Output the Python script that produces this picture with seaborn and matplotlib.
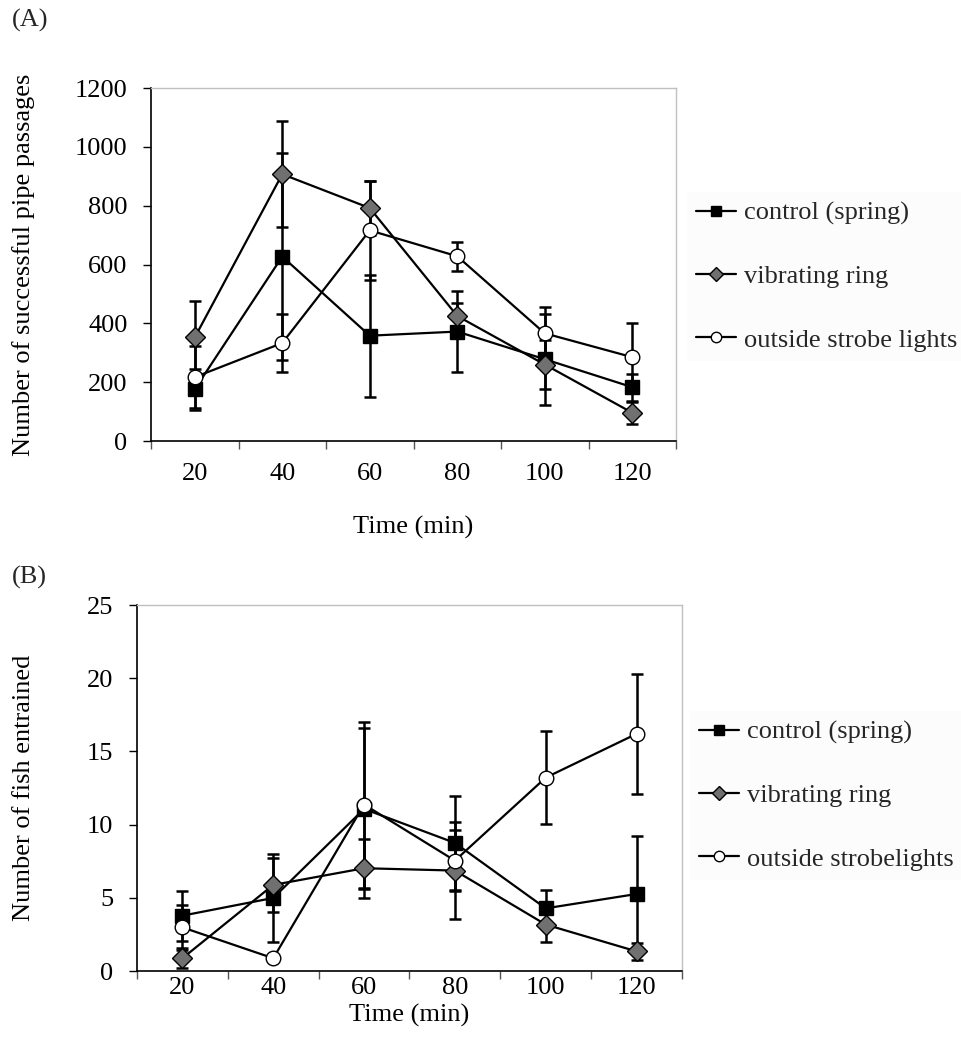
import numpy as np
import matplotlib
matplotlib.use("Agg")
import matplotlib.pyplot as plt
import seaborn as sns
from matplotlib.lines import Line2D
from matplotlib.ticker import FixedLocator

# ---------------- data ----------------
times = ["20", "40", "60", "80", "100", "120"]

names_a = ["control (spring)", "vibrating ring", "outside strobe lights"]
names_b = ["control (spring)", "vibrating ring", "outside strobelights"]

a_control = [176, 627, 358, 372, 278, 183]
a_control_err = [70, 352, 207, 137, 155, 46]
a_vibrating = [352, 907, 792, 425, 260, 96]
a_vibrating_err = [125, 181, 93, 43, 84, 38]
a_strobe = [217, 333, 716, 628, 366, 285]
a_strobe_err = [106, 98, 168, 50, 91, 116]

b_control = [3.78, 4.99, 11.07, 8.75, 4.28, 5.26]
b_control_err = [1.71, 2.98, 5.5, 3.23, 1.26, 3.95]
b_vibrating = [0.87, 5.88, 7.02, 6.86, 3.17, 1.34]
b_vibrating_err = [0.67, 1.86, 2.0, 3.3, 1.2, 0.6]
b_strobe = [2.98, 0.87, 11.37, 7.54, 13.21, 16.2]
b_strobe_err = [1.53, 0.0, 5.67, 2.1, 3.2, 4.1]

a_yticks = [0, 200, 400, 600, 800, 1000, 1200]
b_yticks = [0, 5, 10, 15, 20, 25]

# ---------------- style ----------------
sns.set_theme(style="white")
plt.rcParams["font.family"] = ["Liberation Serif", "DejaVu Serif"]
FS = 19
plt.rcParams["font.size"] = FS

W, H = 962, 1053
fig = plt.figure(figsize=(W / 100, H / 100), dpi=100)
fig.patch.set_facecolor("white")


def add_ax(l, t, r, b):
    return fig.add_axes([l / W, 1 - b / H, (r - l) / W, (b - t) / H])


axA = add_ax(151, 88, 676, 441)
axB = add_ax(137, 605, 682, 971)

marker_styles = [
    dict(marker="s", markersize=10.5, markerfacecolor="black"),
    dict(marker="D", markersize=10.5, markerfacecolor="#707070"),
    dict(marker="o", markersize=10.5, markerfacecolor="white"),
]


def draw_panel(ax, series, names, yticks, ylabel, xtick_pad, xlabel_y, ylabel_x,
               legend_left, legend_center):
    x = np.arange(len(times))
    for i, (vals, errs) in enumerate(series):
        ax.errorbar(x, vals, yerr=errs, fmt="none", ecolor="black",
                    elinewidth=1.8, capsize=4.5, capthick=1.8, zorder=2)
        sns.lineplot(x=x, y=vals, ax=ax, color="black", linewidth=1.6,
                     markeredgecolor="black", markeredgewidth=1.0,
                     zorder=3 + i, legend=False, **marker_styles[i])
    ax.set_xlim(-0.5, len(times) - 0.5)
    ax.set_ylim(yticks[0], yticks[-1])
    ax.set_yticks(yticks)
    ax.set_xticks(x)
    ax.set_xticklabels(times)
    ax.xaxis.set_minor_locator(FixedLocator(np.arange(-0.5, len(times), 1.0)))
    ax.tick_params(axis="x", which="major", bottom=True, length=0,
                   pad=xtick_pad, labelsize=FS, colors="black")
    ax.tick_params(axis="x", which="minor", bottom=True, length=5.5,
                   width=1, color="#555555", direction="out")
    ax.tick_params(axis="y", which="major", left=True, length=5.5, width=1,
                   color="black", direction="out", pad=11.5, labelsize=FS,
                   labelcolor="black")
    for s in ["top", "right"]:
        ax.spines[s].set_color("#c0c0c0")
        ax.spines[s].set_linewidth(1.0)
    for s in ["left", "bottom"]:
        ax.spines[s].set_color("black")
        ax.spines[s].set_linewidth(1.2)
    ax.set_facecolor("white")
    ax.grid(False)

    ax.set_xlabel("Time (min)", fontsize=FS, va="center", color="black")
    ax.xaxis.set_label_coords(0.5, xlabel_y)
    ax.set_ylabel(ylabel, fontsize=FS, va="center", color="black")
    ax.yaxis.set_label_coords(ylabel_x, 0.5)

    handles = [Line2D([0], [0], color="black", linewidth=1.6,
                      marker=ms["marker"], markersize=7.5,
                      markerfacecolor=ms["markerfacecolor"],
                      markeredgecolor="black", markeredgewidth=1.0)
               for ms in marker_styles]
    leg = ax.legend(handles, names, loc="center left",
                    bbox_to_anchor=(legend_left / W, 1 - legend_center / H),
                    bbox_transform=fig.transFigure, frameon=True,
                    facecolor="#fcfcfc", edgecolor="none", fancybox=False,
                    borderpad=0.35, labelspacing=1.5, handlelength=1.5,
                    handletextpad=0.3, fontsize=FS, borderaxespad=0)
    leg.get_frame().set_alpha(1)


draw_panel(axA,
           [(a_control, a_control_err), (a_vibrating, a_vibrating_err),
            (a_strobe, a_strobe_err)],
           names_a, a_yticks, "Number of successful pipe passages",
           xtick_pad=16, xlabel_y=(441 - 527) / 353, ylabel_x=(24 - 151) / 525,
           legend_left=687, legend_center=276.5)

draw_panel(axB,
           [(b_control, b_control_err), (b_vibrating, b_vibrating_err),
            (b_strobe, b_strobe_err)],
           names_b, b_yticks, "Number of fish entrained",
           xtick_pad=4.6, xlabel_y=(971 - 1015) / 366, ylabel_x=(24 - 137) / 545,
           legend_left=690, legend_center=795.5)

fig.text(12 / W, 1 - 20 / H, "(A)", ha="left", va="center", fontsize=FS)
fig.text(12 / W, 1 - 577 / H, "(B)", ha="left", va="center", fontsize=FS)

fig.savefig("out.png", dpi=100, facecolor="white")
